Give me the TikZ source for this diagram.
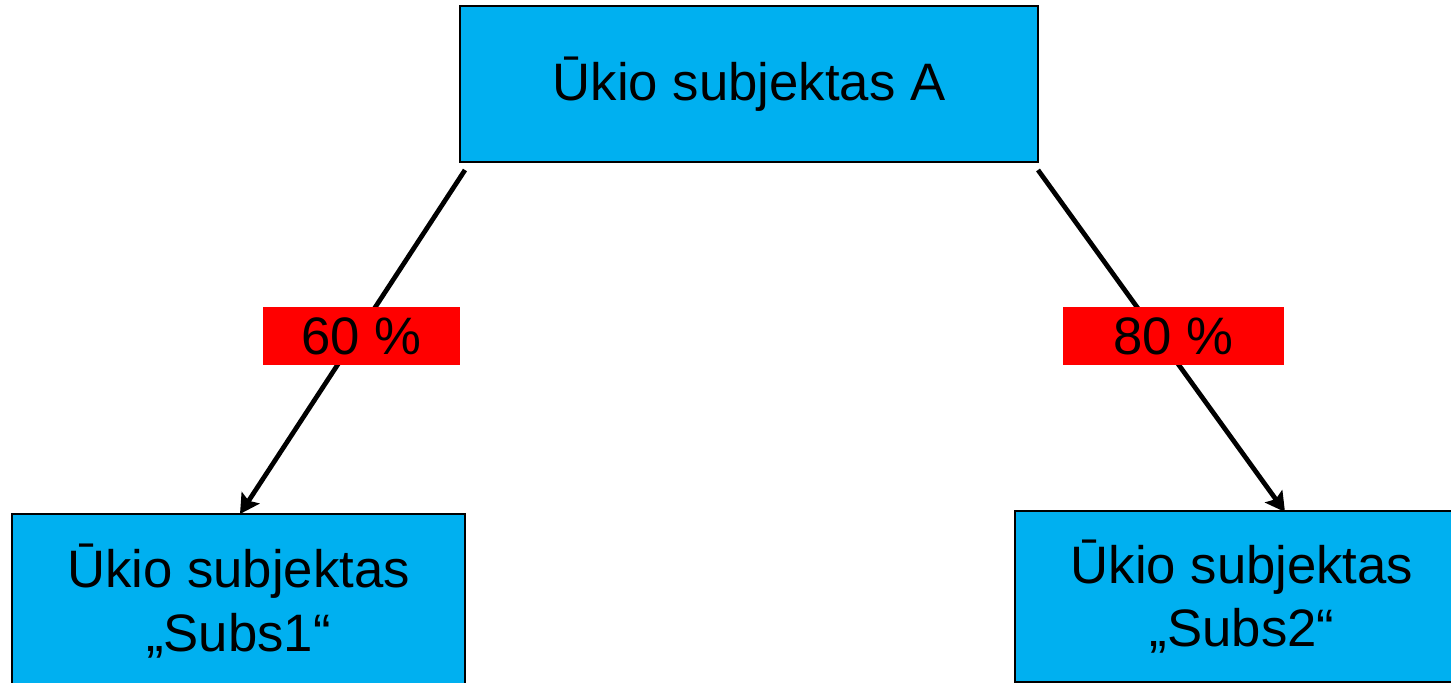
\documentclass[tikz,border=0pt]{standalone}
\usepackage{fontspec}
\setmainfont{Liberation Sans}
\usetikzlibrary{arrows.meta,positioning}
\definecolor{boxblue}{HTML}{00B0F0}

\begin{document}
\begin{tikzpicture}
	[
		x=0.02cm, y=-0.02cm,
		E/.style = {rectangle, align=center, draw=black, line width=1.1pt, fill=boxblue, inner sep=0pt, font=\fontsize{30}{36}\selectfont},
		P/.style = {rectangle, align=center, draw=none, fill=red, inner sep=0pt, minimum height=1.16cm, font=\fontsize{30}{36}\selectfont},
		L/.style = {-{Stealth[length=11pt, width=12pt, inset=2pt]}, line width=2.7pt},
	]
	\useasboundingbox (0,0) rectangle (1451,683);

	% entities
	\node[E, minimum width=11.56cm, minimum height=3.12cm] (A)  at ( 749.0,  84.0) {Ūkio subjektas A};
	\node[E, minimum width=9.06cm,  minimum height=3.48cm] (S1) at ( 238.5, 601.0) {Ūkio subjektas\\„Subs1“};
	\node[E, minimum width=9.08cm,  minimum height=3.42cm] (S2) at (1242.0, 596.5) {Ūkio subjektas\\„Subs2“};

	% arrow ends
	\coordinate (a1) at ( 465, 170);
	\coordinate (b1) at ( 240, 514);
	\coordinate (a2) at (1038, 170);
	\coordinate (b2) at (1285, 512);

	\foreach \from/\to in {a1/b1,a2/b2}
	\draw[L] (\from) -- (\to);

	% shares
	\node[P, minimum width=3.94cm] (p1) at ( 361.5, 336.0) {60 \%};
	\node[P, minimum width=4.42cm] (p2) at (1173.5, 336.0) {80 \%};

\end{tikzpicture}
\end{document}
